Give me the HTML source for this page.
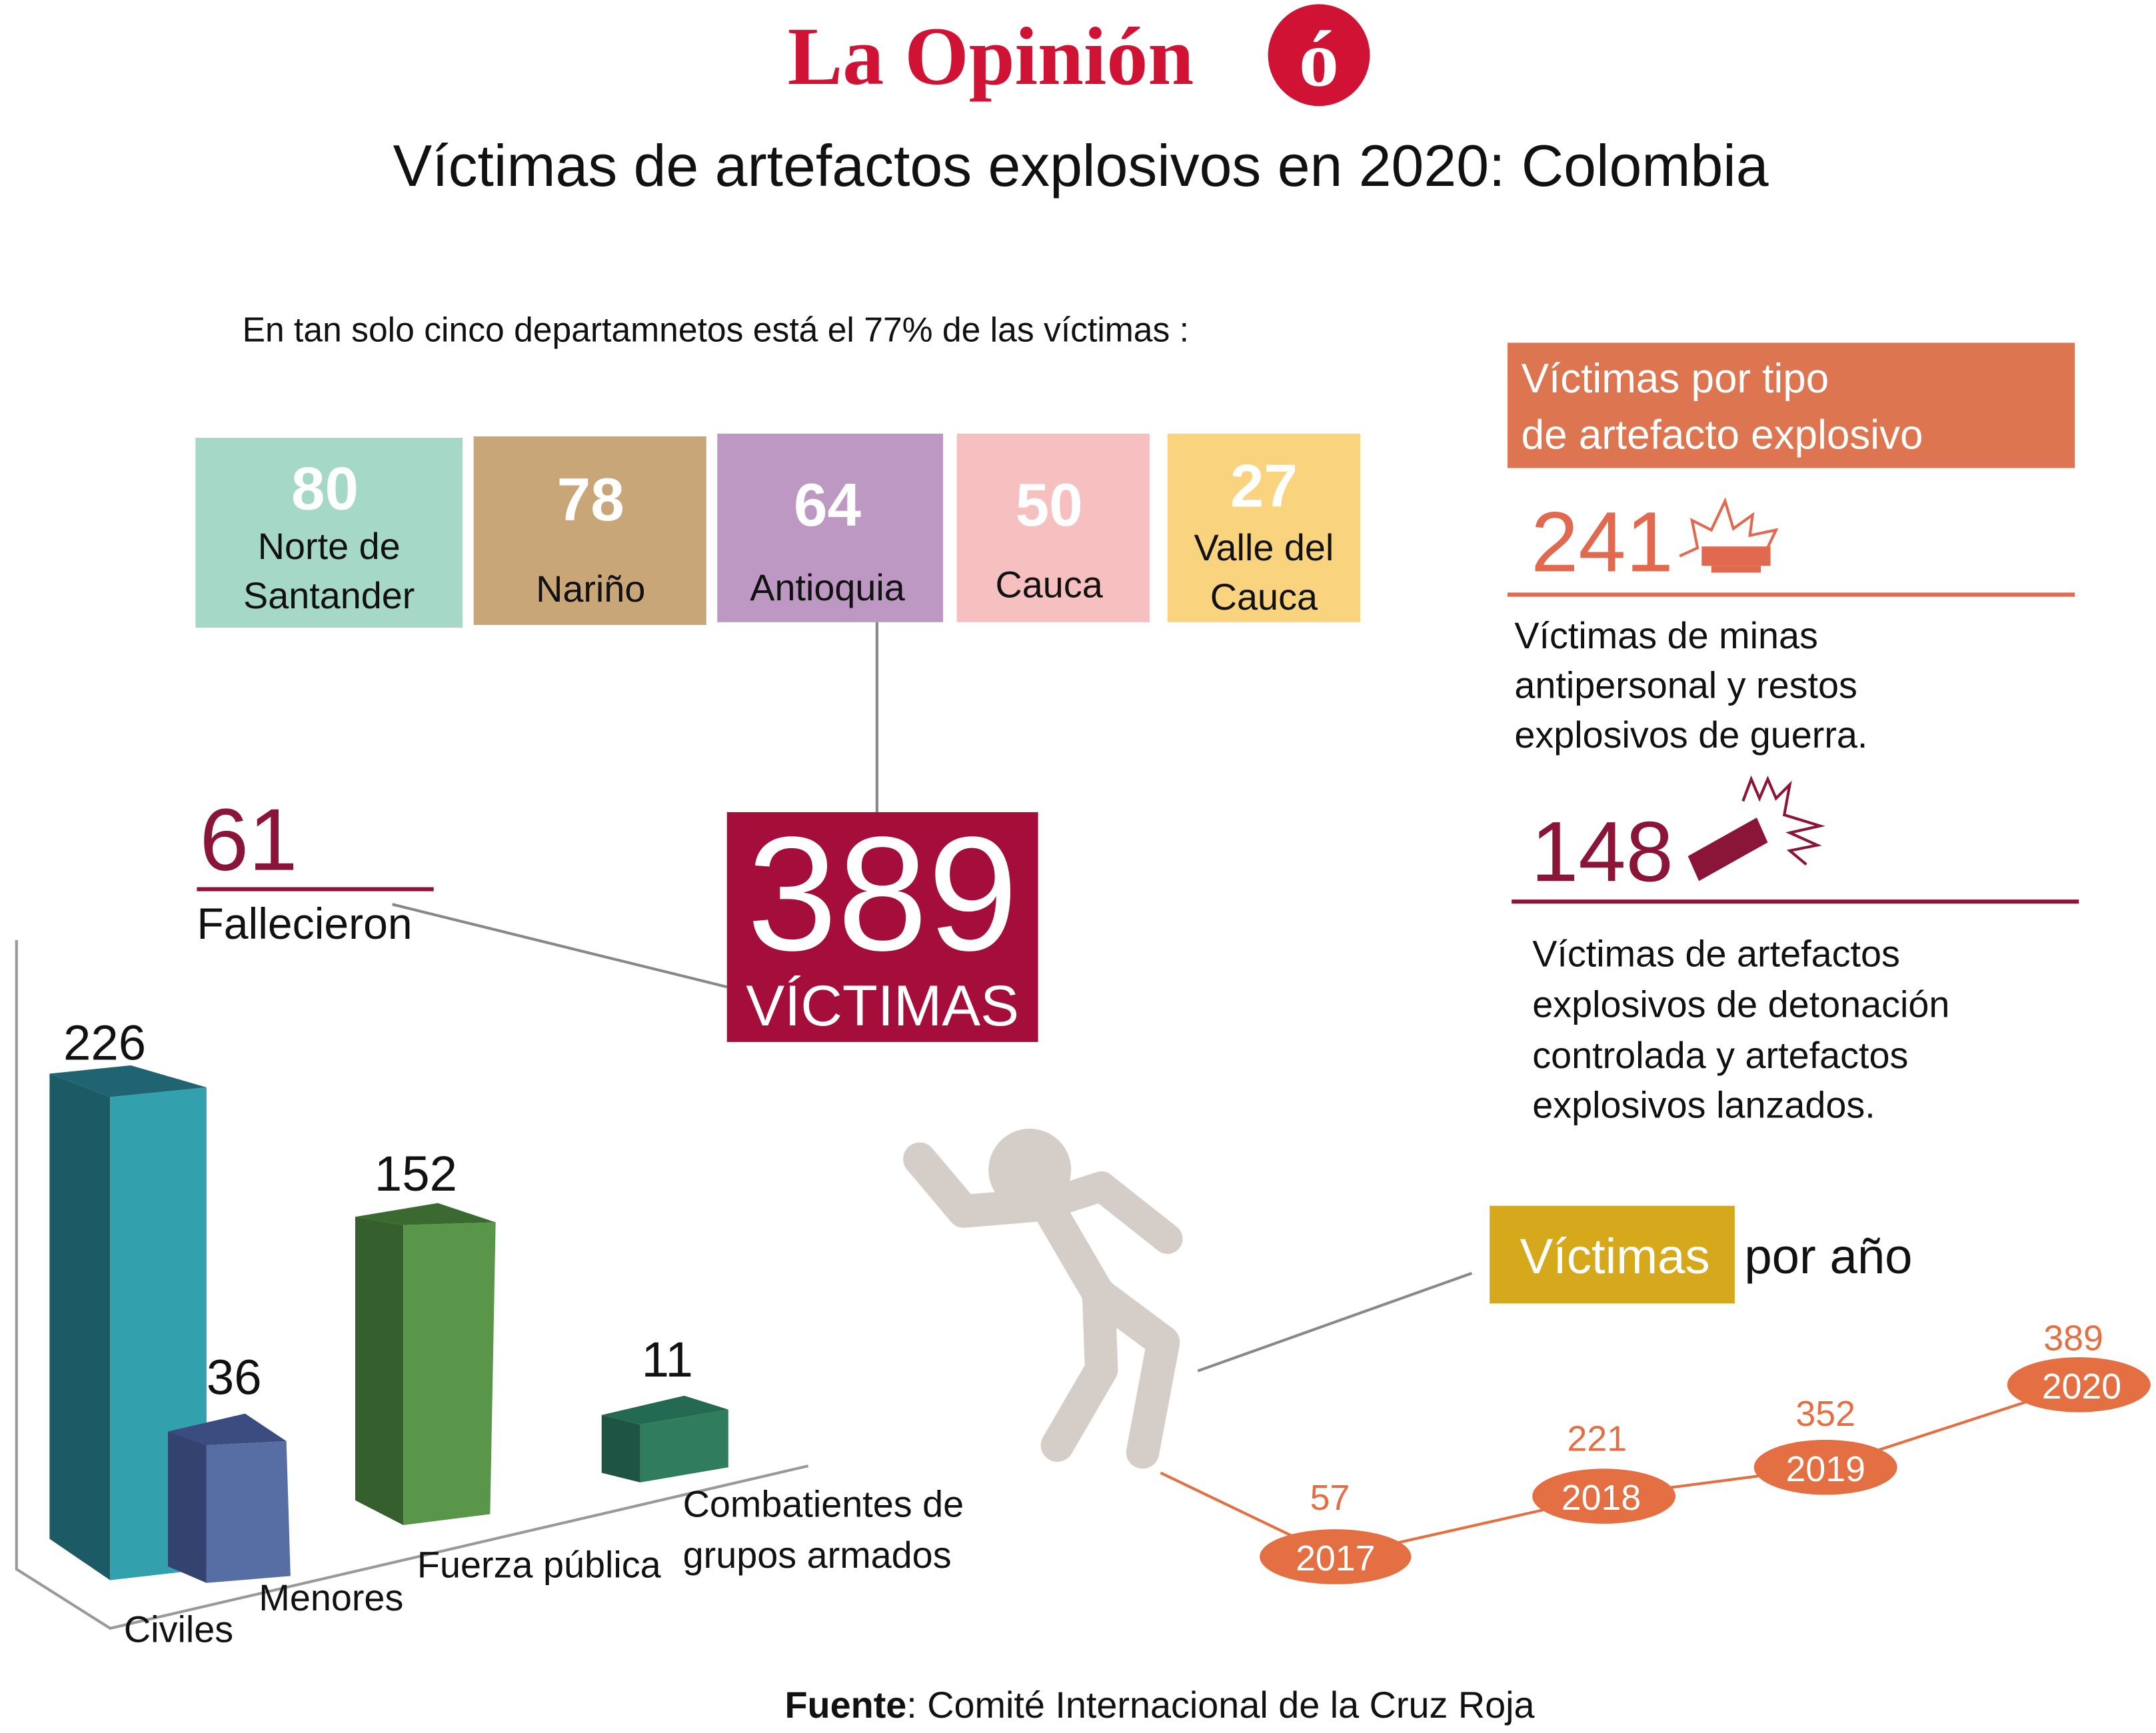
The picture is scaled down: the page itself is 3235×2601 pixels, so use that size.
<!DOCTYPE html>
<html><head><meta charset="utf-8"><style>
html,body{margin:0;padding:0;background:#fff;}
svg{display:block}
text{font-family:"Liberation Sans",sans-serif;}
</style></head><body>
<svg width="3235" height="2601" viewBox="0 0 1566 1259" xmlns="http://www.w3.org/2000/svg">
<rect width="1566" height="1259" fill="#fff"/>
<!-- logo -->
<text x="572" y="61" style="font-family:'Liberation Serif',serif" font-weight="bold" font-size="60" fill="#d01234">La Opinión</text>
<circle cx="958" cy="40" r="37" fill="#d01234"/>
<text x="958" y="62" text-anchor="middle" style="font-family:'Liberation Serif',serif" font-weight="bold" font-size="58" fill="#fff">ó</text>
<text x="785" y="135" text-anchor="middle" font-size="42.5" fill="#111">Víctimas de artefactos explosivos en 2020: Colombia</text>
<text x="176" y="248" font-size="25" fill="#111">En tan solo cinco departamnetos está el 77% de las víctimas :</text>
<!-- boxes -->
<rect x="142" y="318" width="194" height="138" fill="#a6d8c8"/>
<text x="236" y="370" text-anchor="middle" font-size="44" font-weight="bold" fill="#fff">80</text>
<text x="239" y="406" text-anchor="middle" font-size="27" fill="#111">Norte de</text>
<text x="239" y="442" text-anchor="middle" font-size="27" fill="#111">Santander</text>
<rect x="344" y="317" width="169" height="137" fill="#c9a677"/>
<text x="429" y="378" text-anchor="middle" font-size="44" font-weight="bold" fill="#fff">78</text>
<text x="429" y="437" text-anchor="middle" font-size="27" fill="#111">Nariño</text>
<rect x="521" y="315" width="164" height="137" fill="#bc98c3"/>
<text x="601" y="382" text-anchor="middle" font-size="44" font-weight="bold" fill="#fff">64</text>
<text x="601" y="436" text-anchor="middle" font-size="27" fill="#111">Antioquia</text>
<rect x="695" y="315" width="140" height="137" fill="#f7c0c0"/>
<text x="762" y="382" text-anchor="middle" font-size="44" font-weight="bold" fill="#fff">50</text>
<text x="762" y="434" text-anchor="middle" font-size="27" fill="#111">Cauca</text>
<rect x="848" y="315" width="140" height="137" fill="#f9d37e"/>
<text x="918" y="368" text-anchor="middle" font-size="44" font-weight="bold" fill="#fff">27</text>
<text x="918" y="407" text-anchor="middle" font-size="27" fill="#111">Valle del</text>
<text x="918" y="443" text-anchor="middle" font-size="27" fill="#111">Cauca</text>
<line x1="637" y1="452" x2="637" y2="590" stroke="#888" stroke-width="2"/>
<!-- 389 -->
<rect x="528" y="590" width="226" height="167" fill="#a50d3b"/>
<text x="641" y="690" text-anchor="middle" font-size="118" fill="#fff">389</text>
<text x="641" y="745" text-anchor="middle" font-size="42" fill="#fff">VÍCTIMAS</text>
<text x="145" y="632" font-size="64" fill="#8b1538">61</text>
<line x1="143" y1="646" x2="315" y2="646" stroke="#8b1538" stroke-width="3"/>
<text x="143" y="682" font-size="32" fill="#111">Fallecieron</text>
<line x1="285" y1="657" x2="528" y2="717" stroke="#888" stroke-width="2"/>
<!-- right -->
<rect x="1095" y="249" width="412" height="91" fill="#dd7650"/>
<text x="1105" y="285" font-size="30" fill="#fff">Víctimas por tipo</text>
<text x="1105" y="326" font-size="30" fill="#fff">de artefacto explosivo</text>
<text x="1112" y="415" font-size="62" fill="#e0694f">241</text>
<line x1="1095" y1="432" x2="1507" y2="432" stroke="#e0694f" stroke-width="3"/>
<polyline points="1220,404 1233,398 1229,378 1243,385 1253,364 1259,384 1273,374 1271,389 1290,385 1281,404" fill="none" stroke="#e0694f" stroke-width="2"/>
<rect x="1236" y="397" width="50" height="14" fill="#e0694f"/>
<rect x="1243" y="411" width="36" height="5" fill="#e0694f"/>
<text x="1100" y="471" font-size="27" fill="#111">Víctimas de minas</text>
<text x="1100" y="507" font-size="27" fill="#111">antipersonal y restos</text>
<text x="1100" y="543" font-size="27" fill="#111">explosivos de guerra.</text>
<text x="1112" y="640" font-size="62" fill="#8b1538">148</text>
<polygon points="1226,622 1276,594 1284,612 1234,640" fill="#8b1538"/>
<polyline points="1266,582 1272,566 1278,580 1284,566 1290,580 1300,570 1296,592 1322,600 1300,605 1320,614 1300,618 1312,628" fill="none" stroke="#8b1538" stroke-width="2"/>
<line x1="1098" y1="655" x2="1510" y2="655" stroke="#8b1538" stroke-width="3"/>
<text x="1113" y="702" font-size="27" fill="#111">Víctimas de artefactos</text>
<text x="1113" y="739" font-size="27" fill="#111">explosivos de detonación</text>
<text x="1113" y="776" font-size="27" fill="#111">controlada y artefactos</text>
<text x="1113" y="812" font-size="27" fill="#111">explosivos lanzados.</text>
<!-- bars axes -->
<polyline points="12,683 12,1140 80,1183 587,1065" fill="none" stroke="#999" stroke-width="2"/>
<polygon points="36,780 80,797 80,1148 36,1118" fill="#1c5a66"/>
<polygon points="36,780 95,774 150,790 80,797" fill="#1f6470"/>
<polygon points="80,797 150,790 150,1140 80,1148" fill="#33a0ae"/>
<polygon points="122,1040 150,1050 150,1150 122,1138" fill="#33426e"/>
<polygon points="122,1040 178,1027 208,1047 150,1050" fill="#3b4c80"/>
<polygon points="150,1050 208,1047 211,1145 150,1150" fill="#566ea3"/>
<polygon points="258,884 293,890 293,1108 258,1090" fill="#355f2d"/>
<polygon points="258,884 318,874 360,888 293,890" fill="#3a6a30"/>
<polygon points="293,890 360,888 356,1100 293,1108" fill="#5a9649"/>
<polygon points="437,1028 465,1035 465,1077 437,1070" fill="#1d5444"/>
<polygon points="437,1028 497,1014 529,1024 465,1035" fill="#246a52"/>
<polygon points="465,1035 529,1024 529,1066 465,1077" fill="#2f7d5d"/>
<text x="46" y="770" font-size="36" fill="#111">226</text>
<text x="150" y="1013" font-size="36" fill="#111">36</text>
<text x="272" y="865" font-size="36" fill="#111">152</text>
<text x="466" y="1000" font-size="36" fill="#111">11</text>
<text x="90" y="1193" font-size="27" fill="#111">Civiles</text>
<text x="188" y="1170" font-size="27" fill="#111">Menores</text>
<text x="303" y="1146" font-size="27" fill="#111">Fuerza pública</text>
<text x="496" y="1102" font-size="27" fill="#111">Combatientes de</text>
<text x="496" y="1139" font-size="27" fill="#111">grupos armados</text>
<!-- person -->
<g stroke="#d5cdc8" stroke-linecap="round" stroke-linejoin="round" fill="none">
<circle cx="748" cy="850" r="30" fill="#d5cdc8" stroke="none"/>
<polyline points="668,842 700,880 760,875 798,940" stroke-width="24"/>
<polyline points="760,875 800,862 848,900" stroke-width="22"/>
<polyline points="798,940 845,975 830,1055" stroke-width="24"/>
<polyline points="798,940 800,995 768,1050" stroke-width="24"/>
</g>
<line x1="870" y1="996" x2="1069" y2="925" stroke="#888" stroke-width="2"/>
<rect x="1082" y="876" width="178" height="71" fill="#d6a81b"/>
<text x="1104" y="925" font-size="36" fill="#fff">Víctimas</text>
<text x="1267" y="925" font-size="36" fill="#111">por año</text>
<polyline points="843,1070 970,1131 1165,1087 1326,1066 1510,1006" fill="none" stroke="#e36f43" stroke-width="2"/>
<g fill="#e36f43">
<ellipse cx="970" cy="1131" rx="55" ry="20"/>
<ellipse cx="1165" cy="1087" rx="52" ry="20"/>
<ellipse cx="1326" cy="1066" rx="52" ry="20"/>
<ellipse cx="1510" cy="1006" rx="52" ry="20"/>
</g>
<g font-size="26" fill="#fff" text-anchor="middle">
<text x="970" y="1141">2017</text><text x="1163" y="1097">2018</text><text x="1326" y="1076">2019</text><text x="1512" y="1016">2020</text>
</g>
<g font-size="26" fill="#e36f43" text-anchor="middle">
<text x="966" y="1097">57</text><text x="1160" y="1054">221</text><text x="1326" y="1036">352</text><text x="1506" y="981">389</text>
</g>
<text x="570" y="1248" font-size="27" fill="#111"><tspan font-weight="bold">Fuente</tspan>: Comité Internacional de la Cruz Roja</text>
</svg>
</body></html>
